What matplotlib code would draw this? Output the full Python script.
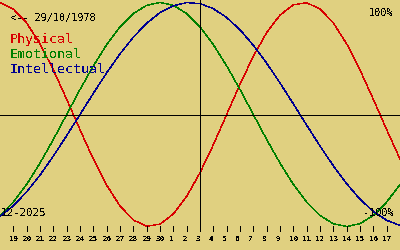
import matplotlib
matplotlib.use("Agg")
import matplotlib.pyplot as plt

plt.rcParams['text.antialiased'] = False

# day labels (Nov 19 .. Dec 17, 2025), today = Dec 3
day_labels = [19, 20, 21, 22, 23, 24, 25, 26, 27, 28, 29, 30,
              1, 2, 3, 4, 5, 6, 7, 8, 9, 10, 11, 12, 13, 14, 15, 16, 17]
today_index = 14
# positions -1..29 (one extra day at each edge)
days = list(range(-1, 30))

physical = [0.998, 0.942, 0.817, 0.631, 0.398, 0.136, -0.136, -0.398, -0.631,
            -0.817, -0.942, -0.998, -0.979, -0.888, -0.731, -0.520, -0.270,
            0.0, 0.270, 0.520, 0.731, 0.888, 0.979, 0.998, 0.942, 0.817,
            0.631, 0.398, 0.136, -0.136, -0.398]
emotional = [-0.901, -0.782, -0.624, -0.434, -0.223, 0.0, 0.223, 0.434, 0.624,
             0.782, 0.901, 0.975, 1.0, 0.975, 0.901, 0.782, 0.624, 0.434,
             0.223, 0.0, -0.223, -0.434, -0.624, -0.782, -0.901, -0.975,
             -1.0, -0.975, -0.901, -0.782, -0.624]
intellectual = [-0.910, -0.815, -0.690, -0.541, -0.372, -0.189, 0.0, 0.189,
                0.372, 0.541, 0.690, 0.815, 0.910, 0.972, 0.999, 0.990, 0.945,
                0.866, 0.756, 0.618, 0.458, 0.282, 0.095, -0.095, -0.282,
                -0.458, -0.618, -0.756, -0.866, -0.945, -0.990]

series_names = ["Physical", "Emotional", "Intellectual"]
series_colors = ["#d80000", "#008000", "#000090"]
bg = "#e0d080"

W, H = 400, 250
fig = plt.figure(figsize=(4, 2.5), dpi=100, facecolor=bg)
ax = fig.add_axes([0, 0, 1, 1], facecolor=bg)
ax.set_axis_off()

center, amp = 114.5, 112.0
def yv(py):
    return (center - py) / amp

ax.set_xlim(-1, 29)
ax.set_ylim(yv(H), yv(0))

lw = 0.5
for vals, col in zip([physical, emotional, intellectual], series_colors):
    ax.plot(days, vals, color=col, lw=0.3, antialiased=False)

ax.axhline(0, color='black', lw=lw, antialiased=False)
ax.plot([today_index, today_index], [yv(0), yv(230)], color='black', lw=lw,
        antialiased=False)

tick_pos = list(range(len(day_labels)))
ax.vlines(tick_pos, yv(231), yv(226), color='black', lw=lw, antialiased=False)
px_per_day = W / 30.0
for i, lab in zip(tick_pos, day_labels):
    ax.text(i - 4.5 / px_per_day, yv(240.7), str(lab), ha='left', va='baseline',
            fontsize=5.4, fontweight='bold', family='DejaVu Sans Mono',
            color='black')

def ftext(x, y, s, **kw):
    fig.text(x / W, 1 - y / H, s, va='baseline', family='DejaVu Sans Mono', **kw)

ftext(10, 20.7, "<-- 29/10/1978", fontsize=7.4, color='black')
ftext(393, 16, "100%", fontsize=7.4, color='black', ha='right')
ftext(1, 215.7, "12-2025", fontsize=7.8, color='black')
ftext(394, 216, "-100%", fontsize=7.4, color='black', ha='right')
for k, (name, col) in enumerate(zip(series_names, series_colors)):
    ftext(10, 42.8 + 15 * k, name, fontsize=9.6, color=col)

fig.savefig("out.png", dpi=100, facecolor=bg)
